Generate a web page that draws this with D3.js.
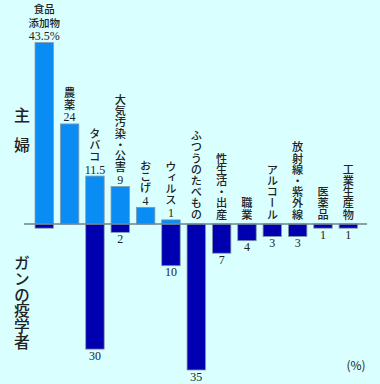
<!DOCTYPE html>
<html><head><meta charset="utf-8">
<script src="https://cdn.jsdelivr.net/npm/d3@7"></script>
<style>
html,body{margin:0;padding:0;background:#d9ffff;}
svg{display:block;}
</style></head>
<body>
<script>
const categories = ["食品添加物","農薬","タバコ","大気汚染・公害","おこげ","ウィルス","ふつうのたべもの","性生活・出産","職業","アルコール","放射線・紫外線","医薬品","工業生産物"];
const housewife = [43.5,24,11.5,9,4,1,0,0,0,0,0,0,0];
const housewifeLabels = ["43.5%","24","11.5","9","4","1","","","","","","",""];
const epidemiologist = [1,0,30,2,0,10,35,7,4,3,3,1,1];
const epidemiologistLabels = ["","","30","2","","10","35","7","4","3","3","1","1"];
const foodLabelLines = ["食品","添加物"];
const groupTop = "主婦";
const groupBottom = "ガンの疫学者";
const unitLabel = "(%)";

const W = 380, H = 384;
const svg = d3.select("body").append("svg").attr("width", W).attr("height", H);
svg.append("rect").attr("width", W).attr("height", H).attr("fill", "#d9ffff");

const x = d3.scaleBand().domain(categories).range([31.6, 361]).paddingInner(0.27).paddingOuter(0.135);
const y = d3.scaleLinear().domain([-35, 43.5]).range([370, 42.6]);

const jp = "'Noto Sans CJK JP','Noto Sans',sans-serif";
const serif = "'Liberation Serif','DejaVu Serif',serif";

// bars top
svg.append("g").selectAll("rect").data(categories).join("rect")
  .filter((d,i) => housewife[i] > 0)
  .attr("x", d => x(d))
  .attr("width", x.bandwidth())
  .attr("y", d => y(housewife[categories.indexOf(d)]))
  .attr("height", d => y(0) - y(housewife[categories.indexOf(d)]))
  .attr("fill", "#0a8cf5").attr("stroke", "#8a9aa8").attr("stroke-width", 0.8);

// bars bottom
svg.append("g").selectAll("rect").data(categories).join("rect")
  .filter((d,i) => epidemiologist[i] > 0)
  .attr("x", d => x(d))
  .attr("width", x.bandwidth())
  .attr("y", y(0))
  .attr("height", d => y(-epidemiologist[categories.indexOf(d)]) - y(0))
  .attr("fill", "#0000b0").attr("stroke", "#8a9aa8").attr("stroke-width", 0.8);

// baseline
svg.append("line").attr("x1", 24).attr("x2", 367).attr("y1", y(0)).attr("y2", y(0))
  .attr("stroke", "#6f8090").attr("stroke-width", 1.5);

const cx = d => x(d) + x.bandwidth()/2;

categories.forEach((c,i) => {
  if (i === 0) {
    const t = svg.append("text").attr("x", cx(c)).attr("y", 12.5)
      .attr("text-anchor","middle").attr("fill","#222");
    foodLabelLines.forEach((line, k) => {
      t.append("tspan").attr("x", cx(c)).attr("y", 12.5 + k*14.6)
        .attr("font-family", jp).attr("font-size", 10.5).attr("font-weight", 500).text(line);
    });
    t.append("tspan").attr("x", cx(c)).attr("y", y(housewife[i]) - 2.5)
      .attr("font-family", serif).attr("font-size", 12).text(housewifeLabels[i]);
  } else {
    if (housewifeLabels[i]) {
      svg.append("text").attr("x", cx(c)).attr("y", y(housewife[i]) - 2.5)
        .attr("text-anchor","middle").attr("font-family", serif).attr("font-size", 12)
        .attr("fill","#222").text(housewifeLabels[i]);
    }
    const endY = housewife[i] > 0 ? y(housewife[i]) - 14 : y(0) - 4;
    svg.append("text").attr("x", cx(c)).attr("y", endY)
      .attr("text-anchor","end").attr("font-family", jp).attr("font-size", 11.2)
      .attr("font-weight", 500).attr("fill","#222")
      .style("writing-mode","vertical-rl").text(c);
  }
  if (epidemiologistLabels[i]) {
    svg.append("text").attr("x", cx(c)).attr("y", y(-epidemiologist[i]) + 10.5)
      .attr("text-anchor","middle").attr("font-family", serif).attr("font-size", 12)
      .attr("fill","#222").text(epidemiologistLabels[i]);
  }
});

// group labels
Array.from(groupTop).forEach((ch, k) => {
  svg.append("text").attr("x", 22).attr("y", 121 + k*30).attr("text-anchor","middle")
    .attr("font-family", jp).attr("font-size", 16).attr("font-weight", 500).attr("fill","#222").text(ch);
});
svg.append("text").attr("x", 22).attr("y", 255).attr("text-anchor","start")
  .attr("font-family", jp).attr("font-size", 15.8).attr("font-weight", 500).attr("fill","#222")
  .style("writing-mode","vertical-rl").text(groupBottom);

svg.append("text").attr("x", 356).attr("y", 370).attr("text-anchor","middle")
  .attr("font-family", jp).attr("font-size", 12).attr("fill","#222").text(unitLabel);
</script>
</body></html>
